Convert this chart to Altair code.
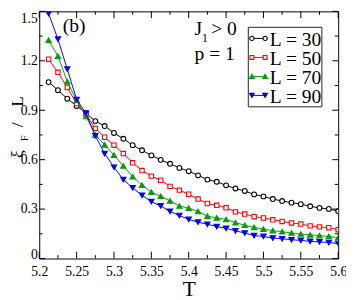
import altair as alt
import pandas as pd

# ---------------- data ----------------
T = [5.2125, 5.225, 5.2375, 5.25, 5.2625, 5.275, 5.2875, 5.3, 5.3125, 5.325,
     5.3375, 5.35, 5.3625, 5.375, 5.3875, 5.4, 5.4125, 5.425, 5.4375, 5.45,
     5.4625, 5.475, 5.4875, 5.5, 5.5125, 5.525, 5.5375, 5.55, 5.5625, 5.575,
     5.5875, 5.6]
T_blue = [5.2, 5.2125, 5.225, 5.2375, 5.25, 5.2625, 5.275, 5.2875, 5.3, 5.3125,
          5.325, 5.3375, 5.35, 5.3625, 5.375, 5.3875, 5.4, 5.4125, 5.425, 5.4375,
          5.45, 5.4625, 5.475, 5.4875, 5.5, 5.5125, 5.525, 5.5375, 5.55, 5.5625,
          5.575, 5.5875, 5.6]

L30 = [1.071, 1.022, 0.970, 0.926, 0.882, 0.834, 0.804, 0.762, 0.727, 0.688,
       0.657, 0.626, 0.599, 0.575, 0.550, 0.530, 0.505, 0.479, 0.466, 0.444,
       0.425, 0.410, 0.389, 0.377, 0.361, 0.349, 0.339, 0.330, 0.317, 0.307,
       0.301, 0.288]
L50 = [1.210, 1.130, 1.038, 0.940, 0.876, 0.790, 0.736, 0.688, 0.637, 0.581,
       0.534, 0.500, 0.475, 0.438, 0.415, 0.390, 0.361, 0.334, 0.323, 0.308,
       0.283, 0.270, 0.254, 0.246, 0.235, 0.225, 0.216, 0.209, 0.198, 0.192,
       0.187, 0.175]
L70 = [1.325, 1.229, 1.073, 0.960, 0.862, 0.751, 0.690, 0.628, 0.562, 0.497,
       0.445, 0.403, 0.378, 0.350, 0.319, 0.306, 0.286, 0.257, 0.247, 0.237,
       0.218, 0.202, 0.189, 0.179, 0.169, 0.163, 0.155, 0.149, 0.144, 0.139,
       0.134, 0.126]
L90 = [1.70, 1.487, 1.331, 1.149, 0.965, 0.882, 0.745, 0.637, 0.554, 0.479,
       0.429, 0.384, 0.345, 0.319, 0.286, 0.261, 0.237, 0.221, 0.208, 0.194,
       0.183, 0.168, 0.155, 0.139, 0.134, 0.124, 0.120, 0.114, 0.110, 0.104,
       0.101, 0.097, 0.091]

labels = ["L = 30", "L = 50", "L = 70", "L = 90"]
x_major = [5.2, 5.25, 5.3, 5.35, 5.4, 5.45, 5.5, 5.55, 5.6]
x_minor = [5.225, 5.275, 5.325, 5.375, 5.425, 5.475, 5.525, 5.575]
y_major = [0, 0.3, 0.6, 0.9, 1.2, 1.5]
y_minor = [0.15, 0.45, 0.75, 1.05, 1.35]

# ---------------- layout ----------------
W, H = 306, 253
FONT = "Liberation Serif"
xs = alt.Scale(domain=[5.2, 5.6], nice=False, zero=False)
ys = alt.Scale(domain=[0, 1.5], nice=False, zero=False)

xaxis = alt.Axis(values=x_major, ticks=False, tickSize=0, domain=False, grid=False,
                 labelFont=FONT, labelFontSize=14, labelColor="black",
                 labelPadding=6, labelExpr="'' + datum.value", labelFlush=False,
                 title="T", titleFont=FONT, titleFontSize=22,
                 titleFontWeight="normal", titleColor="black", titlePadding=1)
yaxis = alt.Axis(values=y_major, ticks=False, tickSize=0, domain=False, grid=False,
                 labelFont=FONT, labelFontSize=14, labelColor="black",
                 labelPadding=2, labelExpr="'' + datum.value", labelFlush=False,
                 labelBaseline={"condition": [
                     {"test": "datum.value == 1.5", "value": "top"},
                     {"test": "datum.value == 0", "value": "alphabetic"}],
                     "value": "middle"},
                 title="")

styles = [
    dict(color="black", shape="circle", fill="white", size=24),
    dict(color="#ff0000", shape="square", fill="white", size=20),
    dict(color="#00a000", shape="triangle-up", fill="#00a000", size=30),
    dict(color="#0000ff", shape="triangle-down", fill="#0000ff", size=30),
]
series = [(T, L30), (T, L50), (T, L70), (T_blue, L90)]

one = pd.DataFrame({"a": [0]})
layers = []

for (tt, vv), st in zip(series, styles):
    df = pd.DataFrame({"T": tt, "v": vv})
    base = alt.Chart(df).encode(
        x=alt.X("T:Q", scale=xs, axis=xaxis),
        y=alt.Y("v:Q", scale=ys, axis=yaxis),
    )
    layers.append(base.mark_line(color=st["color"], strokeWidth=1, clip=True))
    layers.append(base.mark_point(shape=st["shape"], fill=st["fill"], stroke=st["color"],
                                  strokeWidth=1.1, size=st["size"], opacity=1,
                                  fillOpacity=1, clip=True))

# ticks (inward, mirrored)
def xticks(vals, ln):
    d = pd.DataFrame({"T": vals})
    b = alt.Chart(d).mark_rule(color="black", strokeWidth=1)
    bottom = b.encode(x=alt.X("T:Q", scale=xs, axis=xaxis), y=alt.value(H), y2=alt.value(H - ln))
    top = b.encode(x=alt.X("T:Q", scale=xs, axis=xaxis), y=alt.value(0), y2=alt.value(ln))
    return [bottom, top]

def yticks(vals, ln):
    d = pd.DataFrame({"v": vals})
    b = alt.Chart(d).mark_rule(color="black", strokeWidth=1)
    left = b.encode(y=alt.Y("v:Q", scale=ys, axis=yaxis), x=alt.value(0), x2=alt.value(ln))
    right = b.encode(y=alt.Y("v:Q", scale=ys, axis=yaxis), x=alt.value(W), x2=alt.value(W - ln))
    return [left, right]

layers += xticks(x_major, 7) + xticks(x_minor, 3.5) + yticks(y_major, 6) + yticks(y_minor, 3.5)

# legend box
layers.append(alt.Chart(one).mark_rect(fill="white", stroke="#222", strokeWidth=1).encode(
    x=alt.value(214), x2=alt.value(289.3), y=alt.value(16.3), y2=alt.value(97.7)))
for i, (lab, st) in enumerate(zip(labels, styles)):
    yl = 27.7 + 19.45 * i
    yt = 35.3 + 19.45 * i
    layers.append(alt.Chart(one).mark_rule(color=st["color"], strokeWidth=1).encode(
        x=alt.value(217.5), x2=alt.value(231.5), y=alt.value(yl)))
    for xp in (217.7, 231.2):
        layers.append(alt.Chart(one).mark_point(shape=st["shape"], fill=st["fill"],
                                                stroke=st["color"], strokeWidth=1.1,
                                                size=st["size"] * 0.8, opacity=1,
                                                fillOpacity=1).encode(
            x=alt.value(xp), y=alt.value(yl)))
    layers.append(alt.Chart(one).mark_text(text=lab, font=FONT, fontSize=20, align="left",
                                           baseline="alphabetic", color="black").encode(
        x=alt.value(236), y=alt.value(yt)))

def txt(s, x, y, size=20, angle=0):
    kw = dict(text=s, font=FONT, fontSize=size, align="left", baseline="alphabetic",
              color="black")
    if angle:
        kw["angle"] = angle
    return alt.Chart(one).mark_text(**kw).encode(x=alt.value(x), y=alt.value(y))

layers += [
    txt("(b)", 24, 21),
    txt("J", 159, 24),
    txt("1", 166.5, 31, size=12),
    txt("> 0", 176, 24),
    txt("p = 1", 159, 50),
    # rotated y title: xi_F / L
    txt("ξ", -16.5, 150, size=18, angle=270),
    txt("F", -12, 133, size=11, angle=270),
    txt("/", -17, 118.5, size=18, angle=270),
    txt("L", -17, 97.5, size=17, angle=270),
]

chart = alt.layer(*layers).properties(
    width=W, height=H,
    autosize=alt.AutoSizeParams(type="none"),
    padding={"left": 32, "top": 0, "right": 8, "bottom": 39},
).configure_view(stroke="black", strokeWidth=1)

chart.save("out.html", embed_options={"renderer": "svg", "actions": False})
